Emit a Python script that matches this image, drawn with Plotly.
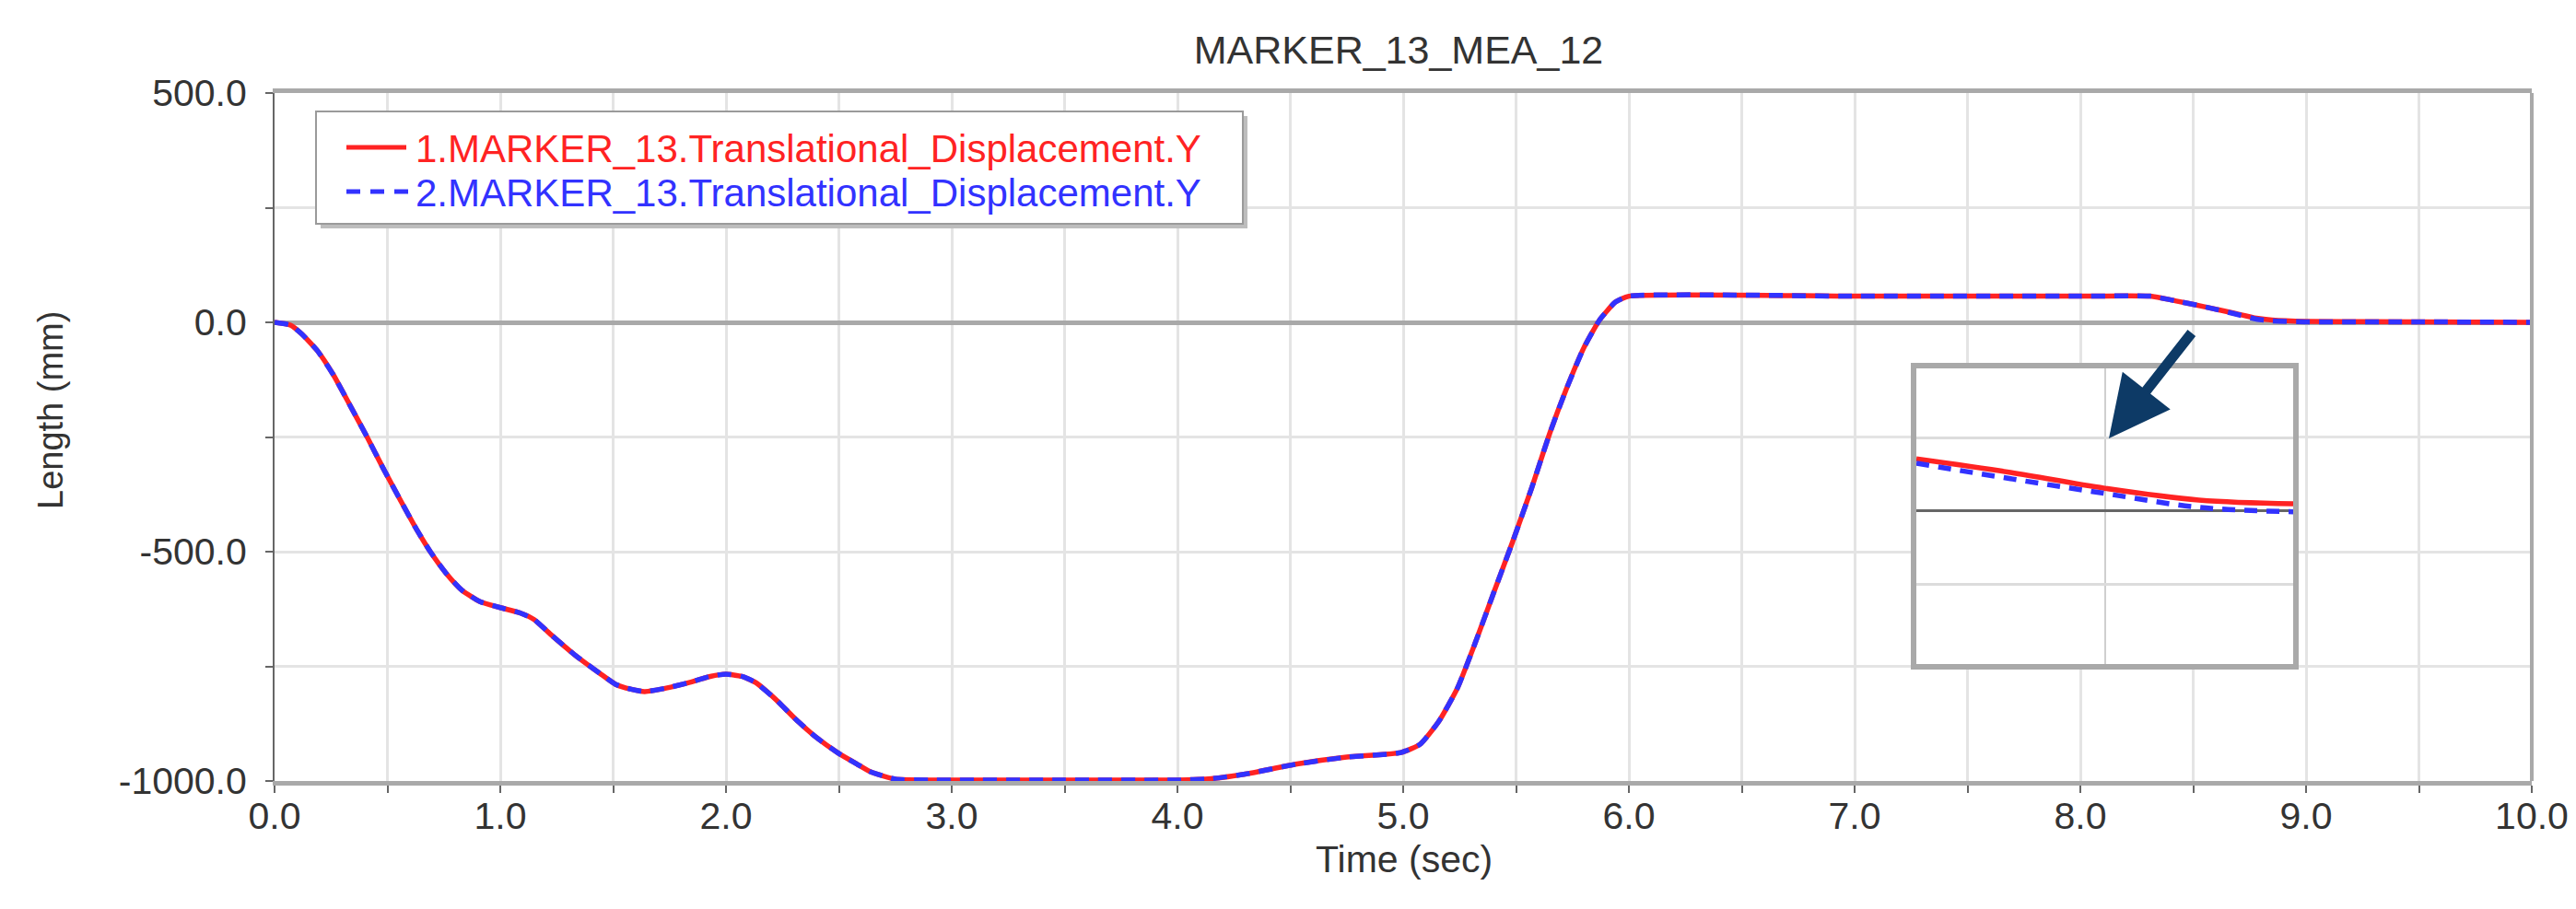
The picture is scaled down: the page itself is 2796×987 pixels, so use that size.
import plotly.graph_objects as go

# ---------------- data ----------------
time_s = [0.0, 0.07, 0.12, 0.19, 0.26, 0.33, 0.41, 0.48, 0.56, 0.63, 0.69, 0.76, 0.83, 0.91,
          1.00, 1.09, 1.15, 1.22, 1.33, 1.44, 1.51, 1.58, 1.64, 1.74, 1.84, 1.93, 2.00, 2.07,
          2.13, 2.22, 2.31, 2.40, 2.50, 2.58, 2.64, 2.75, 2.90, 3.50, 4.00, 4.15, 4.30, 4.53,
          4.75, 4.99, 5.075, 5.158, 5.24, 5.32, 5.40, 5.486, 5.568, 5.65, 5.72, 5.80, 5.87,
          5.94, 6.00, 7.00, 8.00, 8.31, 8.42, 8.56, 8.68, 8.78, 8.85, 9.00, 9.50, 10.00]
disp_1 = [0, -6, -25, -62, -114, -177, -250, -317, -390, -452, -500, -547, -584, -609,
          -622, -634, -648, -679, -725, -765, -789, -800, -805, -797, -785, -772, -767, -772,
          -785, -822, -866, -905, -940, -963, -980, -996, -998, -998, -998, -995, -985, -963,
          -948, -938, -920, -870, -798, -698, -591, -477, -363, -241, -149, -56, 5,
          44, 57, 57, 57, 57, 47, 33, 20, 9, 5, 2, 1, 0]
disp_2 = [0, -6, -25, -62, -114, -177, -250, -317, -390, -452, -500, -547, -584, -609,
          -622, -634, -648, -679, -725, -765, -789, -800, -805, -797, -785, -772, -767, -772,
          -785, -822, -866, -905, -940, -963, -980, -996, -998, -998, -998, -995, -985, -963,
          -948, -938, -920, -870, -798, -698, -591, -477, -363, -241, -149, -56, 5,
          44, 57, 57, 57, 57, 47, 33, 19, 7, 3, 1, 1, 0]

# zoomed inset (detail near the end of the descent)
inset_t = [8.80, 8.85, 8.90, 8.95, 9.00]
inset_1 = [0.71, 0.525, 0.31, 0.15, 0.10]
inset_2 = [0.65, 0.44, 0.24, 0.05, -0.01]

x_tickvals = [0, 1, 2, 3, 4, 5, 6, 7, 8, 9, 10]
x_ticktext = ["0.0", "1.0", "2.0", "3.0", "4.0", "5.0", "6.0", "7.0", "8.0", "9.0", "10.0"]
y_tickvals = [-1000, -500, 0, 500]
y_ticktext = ["-1000.0", "-500.0", "0.0", "500.0"]

name_1 = "1.MARKER_13.Translational_Displacement.Y"
name_2 = "2.MARKER_13.Translational_Displacement.Y"
title_text = "MARKER_13_MEA_12"

RED = "rgb(255,35,35)"
BLUE = "rgb(50,50,255)"
FONT = "Liberation Sans, Arial, sans-serif"
TXT = "#333333"
GRID = "#e4e4e4"
FRAME = "#a9a9a9"

W, H = 2796, 987
L, R, T, B = 290, 56, 93, 147
PW, PH = W - L - R, H - T - B


def px_x(px):
    return (px - L) / PW


def px_y(py):
    return (H - B - py) / PH


fig = go.Figure()
fig.add_trace(go.Scatter(x=time_s, y=disp_1, mode="lines", name=name_1, showlegend=False,
                         line=dict(color=RED, width=5.5, shape="spline", smoothing=0.5)))
fig.add_trace(go.Scatter(x=time_s, y=disp_2, mode="lines", name=name_2, showlegend=False,
                         line=dict(color=BLUE, width=5.5, dash="15px,10px", shape="spline", smoothing=0.5)))

fig.add_trace(go.Scatter(x=inset_t, y=inset_1, mode="lines", showlegend=False,
                         line=dict(color=RED, width=5.5, shape="spline"), xaxis="x2", yaxis="y2"))
fig.add_trace(go.Scatter(x=inset_t, y=inset_2, mode="lines", showlegend=False,
                         line=dict(color=BLUE, width=5.5, dash="14px,10px", shape="spline"),
                         xaxis="x2", yaxis="y2"))

fig.update_layout(
    width=W, height=H,
    margin=dict(l=L, r=R, t=T, b=B),
    paper_bgcolor="white", plot_bgcolor="white",
    font=dict(family=FONT, color=TXT, size=41),
    showlegend=False,
    title=dict(text=title_text, x=1510 / W, xanchor="center", y=1 - 46 / H, yanchor="middle",
               font=dict(family=FONT, size=43, color=TXT)),
    xaxis=dict(range=[0, 10], tickvals=x_tickvals, ticktext=x_ticktext,
               showgrid=True, gridcolor=GRID, gridwidth=3,
               ticks="outside", ticklen=8, tickwidth=2, tickcolor="#666",
               minor=dict(dtick=0.5, tick0=0, ticks="outside", ticklen=8, tickwidth=2,
                          tickcolor="#666", showgrid=True, gridcolor=GRID, gridwidth=3),
               showline=True, linecolor=FRAME, linewidth=5, mirror=True,
               zeroline=False, tickfont=dict(size=41, color=TXT), ticklabelstandoff=-10),
    yaxis=dict(range=[-1000, 500], tickvals=y_tickvals, ticktext=y_ticktext,
               showgrid=True, gridcolor=GRID, gridwidth=3,
               ticks="outside", ticklen=8, tickwidth=2, tickcolor="#666",
               minor=dict(dtick=250, tick0=0, ticks="outside", ticklen=8, tickwidth=2,
                          tickcolor="#666", showgrid=True, gridcolor=GRID, gridwidth=3),
               showline=True, linecolor="#666", linewidth=2,
               zeroline=True, zerolinecolor=FRAME, zerolinewidth=5,
               tickfont=dict(size=41, color=TXT), ticklabelstandoff=12),
    xaxis2=dict(domain=[px_x(2072), px_x(2481)], anchor="y2", range=[8.8, 9.0],
                showticklabels=False, ticks="", tickvals=[8.9],
                showgrid=True, gridcolor="#cfcfcf", gridwidth=2,
                showline=True, linecolor=FRAME, linewidth=6, mirror=True, zeroline=False),
    yaxis2=dict(domain=[px_y(713), px_y(392)], anchor="x2", range=[-2.08, 1.94],
                showticklabels=False, ticks="", tickvals=[-1, 0, 1],
                showgrid=True, gridcolor="#dcdcdc", gridwidth=3,
                showline=True, linecolor=FRAME, linewidth=6, mirror=True,
                zeroline=True, zerolinecolor="#666", zerolinewidth=3),
)

# right border of plot
fig.add_shape(type="line", xref="paper", yref="paper", x0=1, x1=1, y0=0, y1=1,
              line=dict(color=FRAME, width=4))

# ---- legend box (drawn as shapes + text) ----
lx0, lx1, ly0, ly1 = 335, 1341, 113, 235
fig.add_shape(type="rect", xref="paper", yref="paper",
              x0=px_x(lx0 + 5), x1=px_x(lx1 + 5), y0=px_y(ly1 + 5), y1=px_y(ly0 + 5),
              fillcolor="#bdbdbd", line=dict(width=0))
fig.add_shape(type="rect", xref="paper", yref="paper",
              x0=px_x(lx0), x1=px_x(lx1), y0=px_y(ly1), y1=px_y(ly0),
              fillcolor="white", line=dict(color="#9a9a9a", width=2))
fig.add_shape(type="line", xref="paper", yref="paper", x0=px_x(368), x1=px_x(433),
              y0=px_y(152), y1=px_y(152), line=dict(color=RED, width=5))
fig.add_shape(type="line", xref="paper", yref="paper", x0=px_x(368), x1=px_x(436),
              y0=px_y(200), y1=px_y(200), line=dict(color=BLUE, width=5, dash="15px,11px"))
fig.add_annotation(text=name_1, xref="paper", yref="paper", x=px_x(441), y=px_y(153),
                   xanchor="left", yanchor="middle", showarrow=False,
                   font=dict(family=FONT, size=42, color=RED))
fig.add_annotation(text=name_2, xref="paper", yref="paper", x=px_x(441), y=px_y(201),
                   xanchor="left", yanchor="middle", showarrow=False,
                   font=dict(family=FONT, size=42, color=BLUE))

# axis titles
fig.add_annotation(text="Length (mm)", xref="paper", yref="paper", x=px_x(47), y=px_y(438),
                   textangle=-90, showarrow=False, xanchor="center", yanchor="middle",
                   font=dict(family=FONT, size=38, color=TXT))
fig.add_annotation(text="Time (sec)", xref="paper", yref="paper", x=px_x(1516), y=px_y(925),
                   showarrow=False, xanchor="center", yanchor="middle",
                   font=dict(family=FONT, size=41, color=TXT))

# arrow pointing to inset
fig.add_annotation(text="", xref="paper", yref="paper", x=px_x(2281), y=px_y(468),
                   ax=2372 - 2281, ay=352 - 468, showarrow=True,
                   arrowhead=2, arrowsize=1.2, arrowwidth=11, arrowcolor="#0d3a66")

fig.write_html("out.html")
